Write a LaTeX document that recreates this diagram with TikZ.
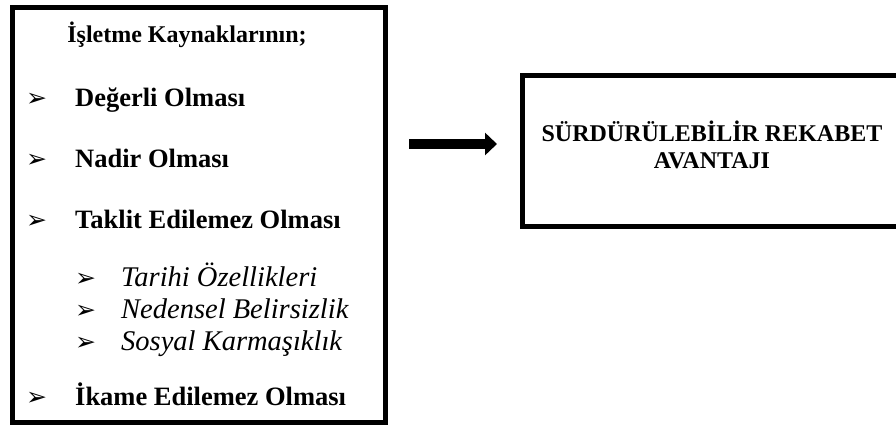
\documentclass[tikz,border=0pt]{standalone}
\usepackage{fontspec}
\setmainfont{Liberation Serif}
\newfontfamily\dingfont{DejaVu Sans}
\usetikzlibrary{arrows.meta}
\begin{document}
\begin{tikzpicture}[x=1pt,y=-1pt,
  frame/.style={draw=black,line width=5pt},
  bold/.style={anchor=base west,inner sep=0pt,font=\fontsize{26.5}{30}\selectfont\bfseries},
  ital/.style={anchor=base west,inner sep=0pt,font=\fontsize{28.5}{32}\selectfont\itshape},
  bul/.style={anchor=base west,inner sep=0pt,font=\fontsize{25}{28}\selectfont\dingfont},
  title/.style={anchor=base,inner sep=0pt,font=\fontsize{24}{28}\selectfont\bfseries}]
\useasboundingbox (0,0) rectangle (896,428);
\fill[white] (0,0) rectangle (896,428);

% left box: resource attributes
\draw[frame] (12,8) rectangle (385,422);
\node[title] (t) at (187,43) {İşletme Kaynaklarının;};
\node[bul] (b1) at (26,106) {➢};
\node[bold] (i1) at (75,106) {Değerli Olması};
\node[bul] (b2) at (26,167) {➢};
\node[bold] (i2) at (75,167) {Nadir Olması};
\node[bul] (b3) at (26,228) {➢};
\node[bold] (i3) at (75,228) {Taklit Edilemez Olması};
\node[bul] (s1) at (75,286) {➢};
\node[ital] (j1) at (121,286) {Tarihi Özellikleri};
\node[bul] (s2) at (75,318) {➢};
\node[ital] (j2) at (121,318) {Nedensel Belirsizlik};
\node[bul] (s3) at (75,350) {➢};
\node[ital] (j3) at (121,350) {Sosyal Karmaşıklık};
\node[bul] (b4) at (26,405) {➢};
\node[bold] (i4) at (75,405) {İkame Edilemez Olması};

% right box: outcome
\draw[frame] (522,75) rectangle (899,226);
\node[align=center,inner sep=0pt,font=\fontsize{24}{27}\selectfont\bfseries] (out) at (712,145)
  {SÜRDÜRÜLEBİLİR REKABET\\AVANTAJI};

% thick arrow between the boxes
\coordinate (a0) at (409,144);
\coordinate (a1) at (497,144);
\draw[line width=10pt,-{Triangle[length=12pt,width=22pt]}] (a0) -- (a1);
\end{tikzpicture}
\end{document}
